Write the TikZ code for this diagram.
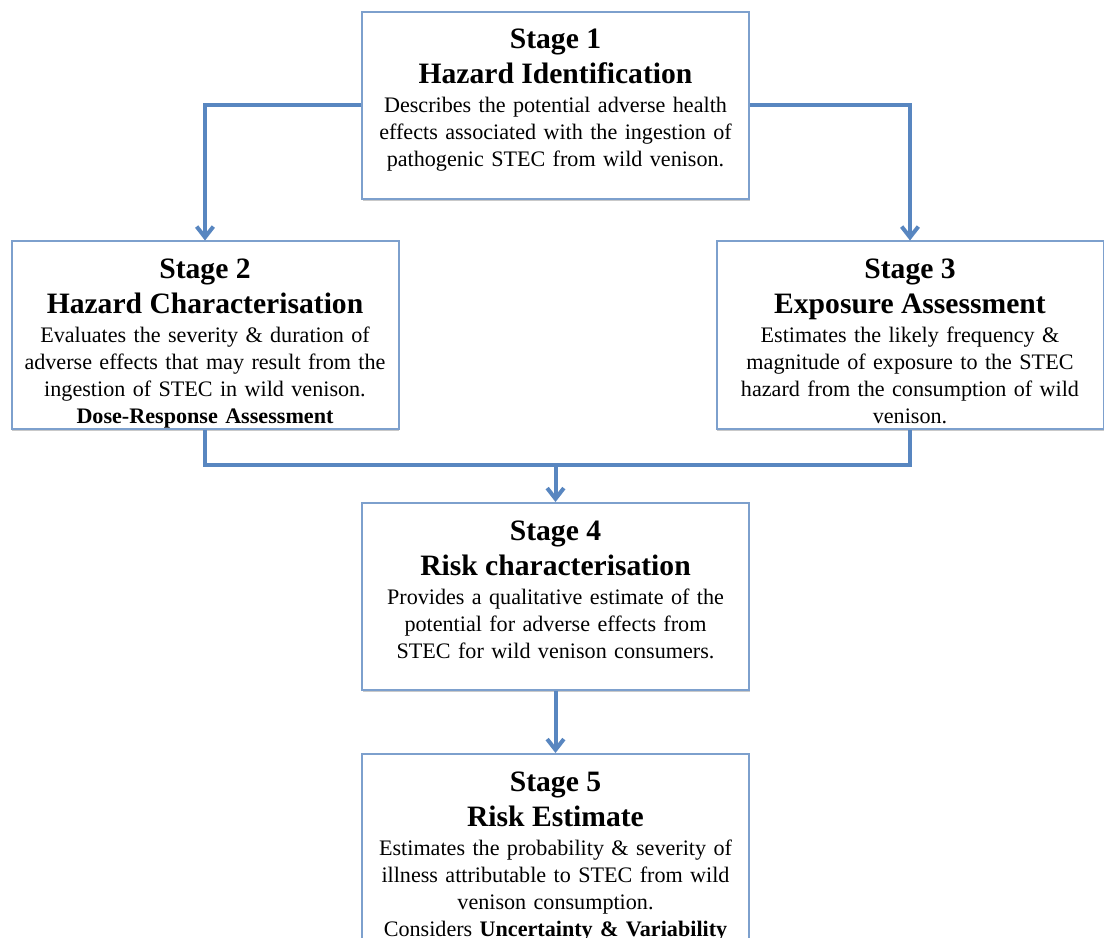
\documentclass[tikz,border=0pt]{standalone}
\usepackage{fontspec}
\setmainfont{Liberation Serif}
\usepackage{tikz}
\usetikzlibrary{arrows.meta,positioning,shadows}
\definecolor{boxline}{RGB}{125,160,205}
\definecolor{flowline}{RGB}{88,134,192}
\newcommand{\headfont}{\fontsize{22.2}{26.25}\selectfont\bfseries}
\newcommand{\bodyfont}{\fontsize{16.6}{20.25}\selectfont}
\newcommand{\stagehead}[2]{{\headfont #1\\#2\par}\vspace{1.5pt}}
\tikzset{
  stagebox/.style={rectangle,draw=boxline,line width=1.5pt,fill=white,
    minimum width=290.25pt,text width=283pt,inner xsep=3.6pt,inner ysep=0pt,
    text height=27.75pt,text depth=112.5pt,align=center,font=\bodyfont,
    drop shadow={shadow xshift=0.6pt,shadow yshift=-1.6pt,opacity=0.3,fill=black!70}},
  flow/.style={draw=flowline,line width=3pt,-{Straight Barb[width=12.5pt,length=8pt]}},
}

\begin{document}
\begin{tikzpicture}[x=0.75pt,y=-0.75pt]
\path[use as bounding box,clip] (0,0) rectangle (1104,938);
% stage boxes
\node[stagebox] (s1) at (555.5,105.5) {\stagehead{Stage 1}{Hazard Identification}
  Describes the potential adverse health\\effects associated with the ingestion of\\pathogenic STEC from wild venison.};
\node[stagebox] (s2) at (205,335) {\stagehead{Stage 2}{Hazard Characterisation}
  Evaluates the severity \& duration of\\adverse effects that may result from the\\ingestion of STEC in wild venison.\\\textbf{Dose-Response Assessment}};
\node[stagebox] (s3) at (910,335) {\stagehead{Stage 3}{Exposure Assessment}
  Estimates the likely frequency \&\\magnitude of exposure to the STEC\\hazard from the consumption of wild\\venison.};
\node[stagebox] (s4) at (555.5,596.5) {\stagehead{Stage 4}{Risk characterisation}
  Provides a qualitative estimate of the\\potential for adverse effects from\\STEC for wild venison consumers.};
\node[stagebox,anchor=north,text depth=160pt] (s5) at (555.5,753) {\stagehead{Stage 5}{Risk Estimate}
  Estimates the probability \& severity of\\illness attributable to STEC from wild\\venison consumption.\\Considers \textbf{Uncertainty \& Variability}};
% connectors
\coordinate (merge) at (555.5,465);
\draw[flow] (s1.west) -| (s2.north);
\draw[flow] (s1.east) -| (s3.north);
\draw[draw=flowline,line width=3pt] (s2.south) |- (merge) -| (s3.south);
\draw[flow] (merge) -- (s4.north);
\draw[flow] (s4.south) -- (s5.north);
\end{tikzpicture}
\end{document}
